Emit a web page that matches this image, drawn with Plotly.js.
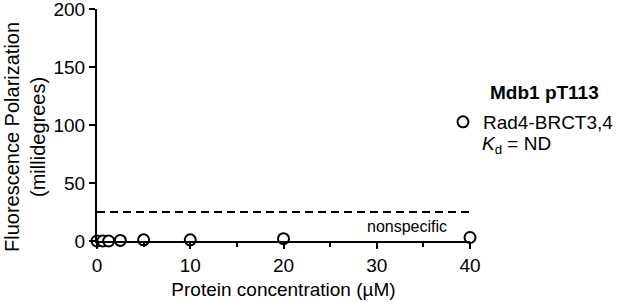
<!DOCTYPE html>
<html><head><meta charset="utf-8">
<script src="https://cdn.plot.ly/plotly-3.0.1.min.js"></script>
<style>html,body{margin:0;padding:0;background:#fff}#plot{width:617px;height:303px}</style>
</head><body><div id="plot"></div>
<script>
const concentration = [0, 0.625, 1.25, 2.5, 5, 10, 20, 40];
const polarization = [0, 0, 0, 0.5, 1, 1, 2, 3];
const nonspecificX = [0, 40];
const nonspecificY = [25, 25];
const seriesName = 'Rad4-BRCT3,4';
const kdText = '<i>K</i><sub>d</sub> = ND';
const legendTitle = '<b>Mdb1 pT113</b>';
const yTitle = 'Fluorescence Polarization<br>(millidegrees)';
const xTitle = 'Protein concentration (µM)';
const xTicks = [0, 10, 20, 30, 40];
const yTicks = [0, 50, 100, 150, 200];

const FONT = 'Liberation Sans, Arial, sans-serif';
const M = {l: 97, r: 147, t: 9, b: 62};
const plotW = 617 - M.l - M.r, plotH = 303 - M.t - M.b;
const px2x = px => (px - M.l) / plotW;
const px2y = py => (303 - M.b - py) / plotH;

const traces = [
  {x: nonspecificX, y: nonspecificY, mode: 'lines', line: {color: '#000', width: 2, dash: '8px,5px'}, showlegend: false, hoverinfo: 'skip'},
  {x: concentration, y: polarization, mode: 'markers', name: seriesName, cliponaxis: false,
   marker: {symbol: 'circle', size: 11, color: '#fff', line: {color: '#000', width: 2}}}
];
const layout = {
  width: 617, height: 303,
  margin: Object.assign({autoexpand: false}, M),
  paper_bgcolor: '#fff', plot_bgcolor: '#fff',
  font: {family: FONT, color: '#000', size: 19},
  showlegend: true,
  legend: {x: px2x(443), xanchor: 'left', y: px2y(103), yanchor: 'top',
           font: {size: 19, family: FONT}, itemwidth: 30, valign: 'top', bgcolor: 'rgba(0,0,0,0)'},
  xaxis: {range: [0, 40], tickvals: xTicks, ticks: 'outside', ticklen: 6, tickwidth: 2, tickcolor: '#000',
          showline: true, linecolor: '#000', linewidth: 2, showgrid: false, zeroline: false,
          minor: {dtick: 5, tick0: 5, ticks: 'outside', ticklen: 4, tickwidth: 2, tickcolor: '#000', showgrid: false},
          tickfont: {size: 19}, title: {text: xTitle, font: {size: 19}, standoff: 8}},
  yaxis: {range: [0, 200], tickvals: yTicks, ticks: 'outside', ticklen: 6, tickwidth: 2, tickcolor: '#000',
          showline: true, linecolor: '#000', linewidth: 2, showgrid: false, zeroline: false, ticklabeloverflow: 'allow',
          tickfont: {size: 19}},
  annotations: [
    {x: 33.24, y: 12.2, xref: 'x', yref: 'y', text: 'nonspecific', showarrow: false, font: {size: 16, family: FONT}},
    {x: px2x(544), y: px2y(93), xref: 'paper', yref: 'paper', text: legendTitle, showarrow: false, font: {size: 19, family: FONT}, xanchor: 'center', yanchor: 'middle'},
    {x: px2x(480), y: px2y(145), xref: 'paper', yref: 'paper', text: kdText, showarrow: false, font: {size: 19, family: FONT}, xanchor: 'left', yanchor: 'middle'},
    {x: px2x(25), y: px2y(137), xref: 'paper', yref: 'paper', text: yTitle, showarrow: false, textangle: -90, font: {size: 20, family: FONT}, xanchor: 'center', yanchor: 'middle'}
  ]
};
Plotly.newPlot('plot', traces, layout, {displayModeBar: false, staticPlot: true});
</script></body></html>
